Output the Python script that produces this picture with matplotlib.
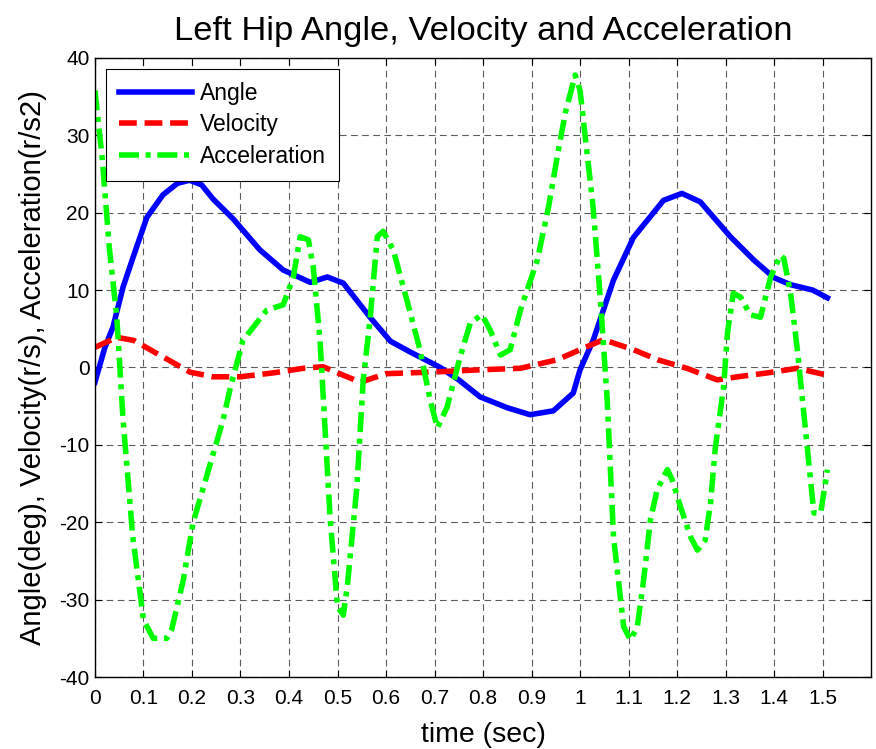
import numpy as np
import matplotlib.pyplot as plt

# Left hip data
angle_t = [0.0, 0.02, 0.037, 0.058, 0.08, 0.107, 0.14, 0.17, 0.195, 0.22, 0.243, 0.285,
           0.34, 0.388, 0.444, 0.479, 0.512, 0.567, 0.609, 0.65, 0.712, 0.75, 0.794, 0.85,
           0.897, 0.945, 0.986, 1.0, 1.027, 1.069, 1.11, 1.172, 1.21, 1.248, 1.31, 1.358,
           1.4, 1.434, 1.48, 1.51]
angle = [-1.9, 2.5, 5.2, 10.4, 14.5, 19.4, 22.3, 23.8, 24.2, 23.6, 21.8, 19.2,
         15.2, 12.6, 11.0, 11.7, 10.9, 6.5, 3.4, 2.0, 0.0, -1.6, -3.8, -5.2,
         -6.1, -5.6, -3.3, -0.3, 3.5, 11.3, 16.8, 21.6, 22.5, 21.4, 16.9, 13.9,
         11.6, 10.7, 10.0, 9.0]

vel_t = [0.0, 0.045, 0.08, 0.128, 0.196, 0.243, 0.3, 0.367, 0.43, 0.47, 0.512, 0.547,
         0.6, 0.691, 0.794, 0.877, 0.953, 1.0, 1.048, 1.11, 1.16, 1.22, 1.283, 1.325,
         1.386, 1.448, 1.51]
vel = [2.6, 3.9, 3.5, 1.8, -0.6, -1.2, -1.2, -0.7, -0.1, 0.1, -1.0, -1.9,
       -0.8, -0.6, -0.3, -0.1, 1.0, 2.3, 3.6, 2.3, 1.0, -0.1, -1.6, -1.2,
       -0.7, -0.1, -1.0]

acc_t = [0.0, 0.015, 0.03, 0.045, 0.058, 0.078, 0.1, 0.12, 0.148, 0.158, 0.182, 0.202,
         0.23, 0.264, 0.278, 0.305, 0.354, 0.388, 0.409, 0.423, 0.44, 0.45, 0.464, 0.485,
         0.5, 0.512, 0.52, 0.54, 0.553, 0.567, 0.582, 0.594, 0.615, 0.643, 0.67, 0.691,
         0.706, 0.726, 0.753, 0.774, 0.798, 0.815, 0.836, 0.856, 0.877, 0.912, 0.935,
         0.955, 0.97, 0.99, 1.0, 1.027, 1.042, 1.056, 1.069, 1.09, 1.104, 1.118, 1.131,
         1.145, 1.159, 1.18, 1.19, 1.207, 1.228, 1.242, 1.258, 1.269, 1.279, 1.296,
         1.304, 1.316, 1.331, 1.351, 1.372, 1.393, 1.413, 1.42, 1.434, 1.448, 1.469,
         1.482, 1.496, 1.51]
acc = [35.8, 27.0, 15.2, 6.5, -6.8, -21.9, -32.6, -35.0, -35.0, -33.9, -27.5, -20.1,
       -14.1, -6.8, -2.9, 3.5, 7.4, 8.1, 11.7, 16.9, 16.5, 13.0, 3.5, -19.7,
       -30.9, -32.0, -28.4, -15.4, -1.6, 6.1, 16.9, 17.6, 15.2, 8.7, 2.3, -4.2,
       -7.8, -5.1, 1.4, 5.8, 6.8, 4.8, 1.6, 2.3, 7.4, 13.9, 20.7,
       28.0, 33.0, 37.8, 35.8, 20.7, 8.7, -4.2, -21.9, -33.5, -35.2, -33.5, -27.5,
       -19.7, -15.8, -13.2, -14.5, -18.0, -21.9, -23.6, -22.3, -17.5, -10.3, -2.5,
       4.5, 9.6, 9.1, 6.8, 6.5, 11.7, 14.5, 14.1, 9.6, 2.3, -10.7,
       -18.8, -18.8, -13.2]

xticks = np.arange(0, 1.51, 0.1)
xtick_labels = ["0", "0.1", "0.2", "0.3", "0.4", "0.5", "0.6", "0.7", "0.8", "0.9",
                "1", "1.1", "1.2", "1.3", "1.4", "1.5"]
yticks = np.arange(-40, 41, 10)

plt.rcParams['font.family'] = ['Liberation Sans', 'DejaVu Sans']
plt.rcParams['axes.unicode_minus'] = False

fig = plt.figure(figsize=(8.76, 7.49), dpi=100)
ax = fig.add_axes([0.1084, 0.0961, 0.886, 0.8265])

lw = 4
ax.plot(angle_t, angle, color="#0000ff", lw=lw, label="Angle", solid_joinstyle="round")
ax.plot(vel_t, vel, color="#ff0000", lw=lw, label="Velocity",
        dashes=(3.2, 1.4), dash_capstyle="butt")
ax.plot(acc_t, acc, color="#00ff00", lw=lw, label="Acceleration",
        dashes=(3.6, 1.2, 0.9, 1.2), dash_capstyle="butt")

ax.set_xlim(0, 1.6)
ax.set_ylim(-40, 40)
ax.set_xticks(xticks)
ax.set_xticklabels(xtick_labels)
ax.set_yticks(yticks)
ax.tick_params(direction="in", top=True, right=True, labelsize=15, length=5, width=0.8)
ax.tick_params(axis="x", pad=8.5)
ax.tick_params(axis="y", pad=4)
ax.grid(True, color="#333333", linestyle=(0, (6, 4)), linewidth=0.8, alpha=0.8)
for s in ax.spines.values():
    s.set_linewidth(1.0)

ax.set_title("Left Hip Angle, Velocity and Acceleration", fontsize=24.8, pad=13)
ax.set_xlabel("time (sec)", fontsize=20.5, labelpad=10)
ax.set_ylabel("Angle(deg), Velocity(r/s), Acceleration(r/s2)", fontsize=21, labelpad=9)

leg = ax.legend(loc="upper left", fontsize=16.5, handlelength=3.2, handletextpad=0.35,
                fancybox=False, framealpha=1, edgecolor="black", borderpad=0.55,
                labelspacing=0.38, borderaxespad=0.48)
leg.get_frame().set_linewidth(0.8)

fig.savefig("out.png", dpi=100)
